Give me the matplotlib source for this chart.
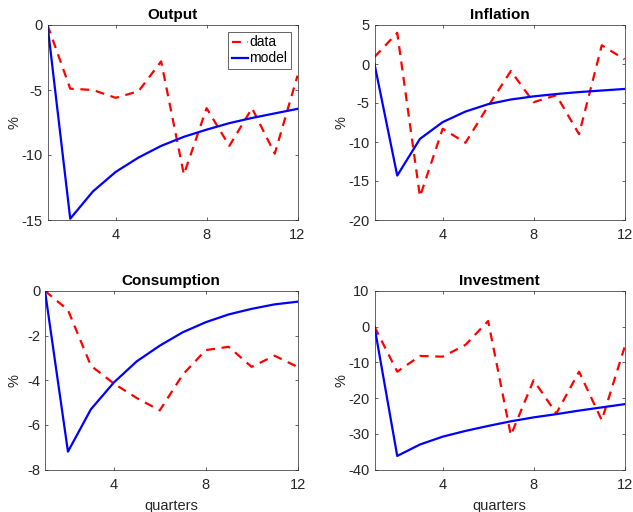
import numpy as np
import matplotlib
matplotlib.use('Agg')
import matplotlib.pyplot as plt

plt.rcParams['font.family'] = ['Liberation Sans', 'DejaVu Sans']
plt.rcParams['axes.unicode_minus'] = False

q = np.arange(1, 13)

output_data = [0, -4.9, -5.0, -5.6, -5.1, -2.8, -11.5, -6.4, -9.3, -6.4, -9.9, -3.9]
output_model = [0, -14.9, -12.8, -11.3, -10.2, -9.3, -8.6, -8.05, -7.55, -7.15, -6.8, -6.45]

infl_data = [0.9, 4.0, -17.0, -8.3, -10.1, -5.4, -0.9, -4.9, -4.0, -9.0, 2.4, 0.6]
infl_model = [0, -14.3, -9.6, -7.45, -6.1, -5.15, -4.55, -4.15, -3.85, -3.6, -3.4, -3.2]

cons_data = [0, -0.85, -3.35, -4.15, -4.8, -5.35, -3.75, -2.65, -2.5, -3.4, -2.9, -3.4]
cons_model = [0, -7.2, -5.3, -4.1, -3.15, -2.45, -1.85, -1.4, -1.05, -0.8, -0.6, -0.48]

inv_data = [0, -12.6, -8.2, -8.4, -5.1, 1.6, -30.4, -15.0, -24.3, -12.6, -26.2, -5.8]
inv_model = [0, -36.2, -33.0, -30.8, -29.2, -27.8, -26.5, -25.4, -24.5, -23.5, -22.6, -21.7]

titles = ['Output', 'Inflation', 'Consumption', 'Investment']
datas = [output_data, infl_data, cons_data, inv_data]
models = [output_model, infl_model, cons_model, inv_model]
ylims = [(-15, 0), (-20, 5), (-8, 0), (-40, 10)]
yticks = [[-15, -10, -5, 0], [-20, -15, -10, -5, 0, 5],
          [-8, -6, -4, -2, 0], [-40, -30, -20, -10, 0, 10]]

# axes boxes in pixels: left, top, right, bottom
boxes = [(47.5, 25, 297.5, 220), (374.5, 25, 624.5, 220),
         (45, 291, 297.5, 469.5), (374.5, 291, 624.5, 469.5)]
ylab_x = [-0.106, -0.102, -0.093, -0.102]

W, H = 633, 512
fig = plt.figure(figsize=(W / 100, H / 100), dpi=100)
txt = '#262626'

for i in range(4):
    l, t, r, b = boxes[i]
    ax = fig.add_axes([l / W, 1 - b / H, (r - l) / W, (b - t) / H])
    ax.plot(q, datas[i], 'r--', lw=1.6, label='data', dashes=(4, 3))
    ax.plot(q, models[i], 'b-', lw=1.6, label='model')
    ax.set_xlim(1, 12)
    ax.set_ylim(*ylims[i])
    ax.set_xticks([4, 8, 12])
    ax.set_yticks(yticks[i])
    ax.set_title(titles[i], fontsize=11, fontweight='bold', color='black', pad=4)
    ax.set_ylabel('%', fontsize=10.5, color=txt)
    ax.yaxis.set_label_coords(ylab_x[i], 0.5)
    if i >= 2:
        ax.set_xlabel('quarters', fontsize=10.5, color=txt, labelpad=5)
    ax.tick_params(direction='in', length=2, width=0.5, colors=txt,
                   labelsize=10.5, top=True, right=True)
    ax.tick_params(axis='x', pad=6)
    ax.tick_params(axis='y', pad=3.5)
    for s in ax.spines.values():
        s.set_color('#262626')
        s.set_linewidth(0.5)
    if i == 0:
        leg = ax.legend(loc='upper right', fontsize=10, handlelength=1.2,
                        handletextpad=0.05, borderpad=0.25, labelspacing=0.15,
                        fancybox=False, framealpha=1, borderaxespad=0.5)
        leg.get_frame().set_edgecolor('#262626')
        leg.get_frame().set_linewidth(0.5)

fig.savefig('out.png', dpi=100)
